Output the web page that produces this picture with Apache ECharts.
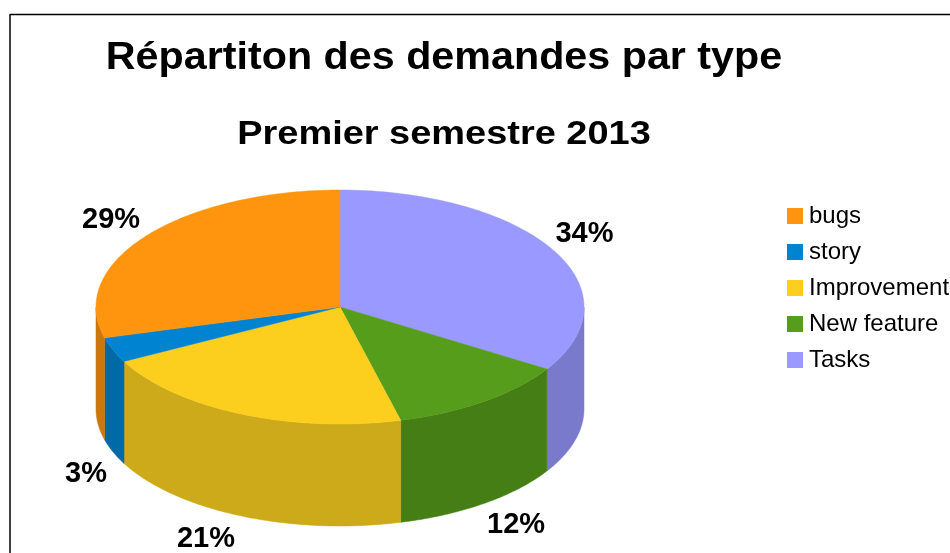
<!DOCTYPE html>
<html>
<head>
<meta charset="utf-8">
<title>Répartiton des demandes par type</title>
<style>
  html, body { margin: 0; padding: 0; background: #fff; }
  /* the reference is a soft upscaled screenshot */
  #chart { width: 950px; height: 553px; filter: blur(0.5px); }
</style>
<script src="https://cdn.jsdelivr.net/npm/echarts@6/dist/echarts.min.js"></script>
</head>
<body>
<div id="chart"></div>
<script>
// clockwise from 12 o'clock
const categories = ["Tasks", "New feature", "Improvement", "story", "bugs"];
const shares = [33.9, 12.1, 21.3, 3.45, 29.25];
const legendOrder = ["bugs", "story", "Improvement", "New feature", "Tasks"];
const mainTitle = "Répartiton des demandes par type";
const subTitle = "Premier semestre 2013";

const topColors = ["#9999ff", "#579d1c", "#fccf1f", "#0084d1", "#ff950e"];
const wallColors = ["#7a7acc", "#467e16", "#ccaa1a", "#006aa7", "#cc770b"];
// label distance from the rim, per slice
const labelOffsets = [[31, -16], [32, 22], [-35, 23], [-27, 22], [-35, -16]];

// echarts has no 3d pie, so the tilted disc is projected by hand
const cx = 340, cy = 307, rx = 244, ry = 117, depth = 102;
const font = "'Liberation Sans', Arial, sans-serif";
const total = shares.reduce((a, b) => a + b, 0);

function rimPoint(deg, drop) {
  const a = deg * Math.PI / 180;
  return [cx + rx * Math.sin(a), cy - ry * Math.cos(a) + drop];
}

function arcPoints(from, to, drop) {
  const pts = [];
  const n = Math.max(2, Math.ceil(Math.abs(to - from)));
  for (let i = 0; i <= n; i++) {
    pts.push(rimPoint(from + (to - from) * i / n, drop));
  }
  return pts;
}

function sliceRenderer(index) {
  return function (params, api) {
    const before = shares.slice(0, index).reduce((a, b) => a + b, 0);
    const start = before / total * 360;
    const end = start + api.value(0) / total * 360;
    const mid = (start + end) / 2;
    const children = [];

    // only the part of the rim facing the viewer shows a wall
    const wallFrom = Math.max(start, 90);
    const wallTo = Math.min(end, 270);
    if (wallTo > wallFrom) {
      const wall = arcPoints(wallFrom, wallTo, 0).concat(arcPoints(wallTo, wallFrom, depth));
      children.push({
        type: "polygon",
        shape: { points: wall },
        style: { fill: wallColors[index], stroke: wallColors[index], lineWidth: 0.5 }
      });
    }
    children.push({
      type: "polygon",
      shape: { points: [[cx, cy]].concat(arcPoints(start, end, 0)) },
      style: { fill: topColors[index], stroke: topColors[index], lineWidth: 0.5 }
    });

    const front = mid > 90 && mid < 270;
    const edge = rimPoint(mid, front ? depth : 0);
    children.push({
      type: "text",
      z2: 10,
      style: {
        x: edge[0] + labelOffsets[index][0],
        y: edge[1] + labelOffsets[index][1],
        text: Math.round(api.value(0) / total * 100) + "%",
        fill: "#000",
        font: "bold 29px " + font,
        align: "center",
        verticalAlign: "middle"
      }
    });
    return { type: "group", children: children };
  };
}

const chart = echarts.init(document.getElementById("chart"));
chart.setOption({
  animation: false,
  backgroundColor: "#fff",
  legend: {
    data: legendOrder,
    orient: "vertical",
    left: 782,
    top: 199,
    icon: "rect",
    itemWidth: 16,
    itemHeight: 16,
    itemGap: 12,
    textStyle: { fontFamily: font, fontSize: 24, color: "#000", lineHeight: 24, padding: [0, 0, 0, 1] }
  },
  graphic: [
    // the titles are wider than the font, the original was stretched
    {
      type: "text",
      x: 444,
      y: 58,
      scaleX: 1.058,
      style: { text: mainTitle, font: "bold 39px " + font, fill: "#000", align: "center", verticalAlign: "middle" }
    },
    {
      type: "text",
      x: 444,
      y: 135,
      scaleX: 1.15,
      style: { text: subTitle, font: "bold 33px " + font, fill: "#000", align: "center", verticalAlign: "middle" }
    },
    // frame of the original screenshot, open on the right and at the bottom
    { type: "line", shape: { x1: 10, y1: 14.5, x2: 950, y2: 14.5 }, style: { stroke: "#000", lineWidth: 1.5 } },
    { type: "line", shape: { x1: 10, y1: 14, x2: 10, y2: 553 }, style: { stroke: "#000", lineWidth: 1.5 } }
  ],
  series: categories.map((name, i) => ({
    type: "custom",
    name: name,
    coordinateSystem: "none",
    silent: true,
    itemStyle: { color: topColors[i] },
    renderItem: sliceRenderer(i),
    data: [[shares[i]]]
  }))
});
</script>
</body>
</html>
